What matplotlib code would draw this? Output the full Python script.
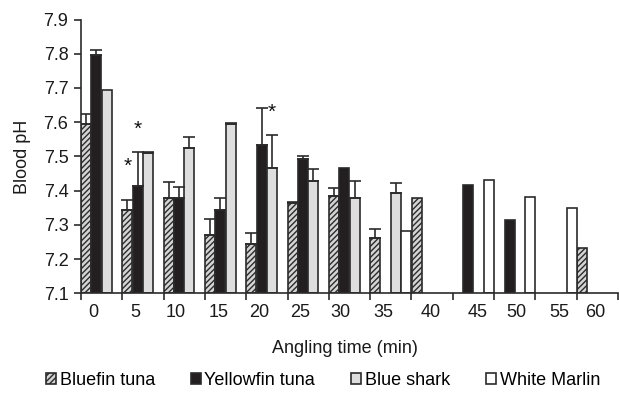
import numpy as np
import matplotlib
matplotlib.use("Agg")
import matplotlib.pyplot as plt

plt.rcParams['font.family'] = ['Liberation Sans', 'DejaVu Sans']
plt.rcParams['hatch.linewidth'] = 1.0
plt.rcParams['hatch.color'] = '#2b2b2b'

nan = np.nan
times = ['0', '5', '10', '15', '20', '25', '30', '35', '40', '45', '50', '55', '60']
species = ['Bluefin tuna', 'Yellowfin tuna', 'Blue shark', 'White Marlin']

bluefin = [7.595, 7.342, 7.379, 7.269, 7.243, 7.363, 7.385, 7.261, 7.377, nan, nan, nan, 7.232]
yellowfin = [7.797, 7.414, 7.379, 7.343, 7.533, 7.493, 7.465, nan, nan, 7.416, 7.313, nan, nan]
blue_shark = [7.694, 7.509, 7.524, 7.595, 7.465, 7.428, 7.377, 7.392, nan, nan, nan, nan, nan]
white_marlin = [nan, nan, nan, nan, nan, nan, nan, 7.283, nan, 7.432, 7.380, 7.350, nan]

# upper error bar tops (SE), only drawn upward
bluefin_err = [7.624, 7.373, 7.424, 7.318, 7.277, 7.368, 7.409, 7.288, nan, nan, nan, nan, nan]
yellowfin_err = [7.810, 7.513, 7.412, 7.379, 7.640, 7.500, nan, nan, nan, nan, nan, nan, nan]
blue_shark_err = [nan, 7.514, 7.556, 7.599, 7.562, 7.464, 7.427, 7.421, nan, nan, nan, nan, nan]
white_marlin_err = [nan] * 13

# significance stars: (series, category, y)
stars = [(0, 1, 7.47), (1, 1, 7.58), (2, 4, 7.63)]

# where the time labels sit inside each category (fraction of category width)
label_pos = [0.31, 0.32, 0.30, 0.34, 0.32, 0.30, 0.27, 0.31, 0.46, 0.60, 0.55, 0.58, 0.44]

values = [bluefin, yellowfin, blue_shark, white_marlin]
errtops = [bluefin_err, yellowfin_err, blue_shark_err, white_marlin_err]
styles = [
    dict(facecolor='#d4d4d4', hatch='//////'),
    dict(facecolor='#231f20'),
    dict(facecolor='#dedede'),
    dict(facecolor='white'),
]
edge = '#2b2b2b'
txt = '#1a1a1a'
fs = 13
base = 7.1
w = 0.25

fig = plt.figure(figsize=(6.19, 3.98), dpi=100)
ax = fig.add_axes([81 / 619, 1 - 293.3 / 398, 537 / 619, 273.8 / 398])

x = np.arange(len(times))
handles = []
for j, (vals, tops, st) in enumerate(zip(values, errtops, styles)):
    v = np.array(vals)
    pos = x - 0.5 + w / 2 + j * w
    b = ax.bar(pos, v - base, bottom=base, width=w * 0.97, edgecolor=edge,
               linewidth=1.2, label=species[j], **st)
    handles.append(b)
    t = np.array(tops)
    up = t - v
    ok = ~np.isnan(up)
    if ok.any():
        ax.errorbar(pos[ok], v[ok], yerr=[np.zeros(ok.sum()), up[ok]], fmt='none',
                    ecolor=edge, elinewidth=1.2, capsize=4, capthick=1.2)

for j, i, yv in stars:
    ax.text(i - 0.5 + w / 2 + j * w, yv, '*', ha='center', va='center', fontsize=15, color='#111')

ax.set_xlim(-0.5, len(times) - 0.5)
ax.set_ylim(7.1, 7.9)
ax.set_yticks(np.round(np.arange(7.1, 7.91, 0.1), 1))
ax.set_yticklabels([f'{t:.1f}' for t in np.arange(7.1, 7.91, 0.1)])
ax.set_xticks(np.arange(len(times) + 1) - 0.5)
ax.set_xticklabels([])
ax.set_xticks(x - 0.5 + np.array(label_pos), times, minor=True)
ax.tick_params(axis='x', which='minor', length=0, pad=8, labelsize=fs, colors=txt)
ax.tick_params(axis='x', which='major', length=5, width=1.2, color=edge)
ax.tick_params(axis='y', length=5, width=1.2, color=edge, labelsize=fs, labelcolor=txt, pad=4)

for s in ['top', 'right']:
    ax.spines[s].set_visible(False)
for s in ['left', 'bottom']:
    ax.spines[s].set_color(edge)
    ax.spines[s].set_linewidth(1.2)

ax.set_ylabel('Blood pH', fontsize=fs, color=txt)
ax.yaxis.set_label_coords(-0.093, 0.5)
ax.set_xlabel('Angling time (min)', fontsize=fs, color=txt)
ax.xaxis.set_label_coords(0.492, -0.17)

fig.legend(handles=handles, loc='center', bbox_to_anchor=(0.522, 0.045), ncol=4,
           frameon=False, fontsize=fs, handlelength=0.55, handleheight=0.55,
           handletextpad=0.2, columnspacing=2.0, borderpad=0)

fig.savefig('out.png', dpi=100)
